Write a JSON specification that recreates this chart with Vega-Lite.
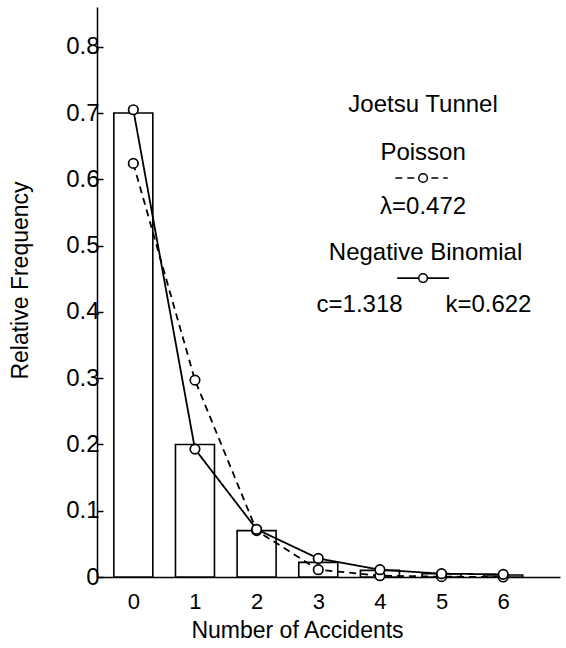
{
  "$schema": "https://vega.github.io/schema/vega-lite/v6.json",
  "width": 463,
  "height": 570,
  "autosize": "none",
  "padding": {"left": 97, "top": 7, "right": 6, "bottom": 71},
  "background": "white",
  "config": {
    "view": {"stroke": null},
    "font": "Liberation Sans",
    "axis": {"labelFont": "Liberation Sans", "titleFont": "Liberation Sans", "labelColor": "black", "titleColor": "black", "titleFontWeight": "normal", "grid": false, "domainColor": "black", "domainWidth": 1.5, "tickColor": "black", "tickWidth": 1.5}
  },
  "datasets": {
    "observed": [
      {"accidents": 0, "freq": 0.70},
      {"accidents": 1, "freq": 0.20},
      {"accidents": 2, "freq": 0.07},
      {"accidents": 3, "freq": 0.022},
      {"accidents": 4, "freq": 0.010},
      {"accidents": 5, "freq": 0.005},
      {"accidents": 6, "freq": 0.003}
    ],
    "fitted": [
      {"accidents": 0, "model": "Poisson", "p": 0.624},
      {"accidents": 1, "model": "Poisson", "p": 0.297},
      {"accidents": 2, "model": "Poisson", "p": 0.070},
      {"accidents": 3, "model": "Poisson", "p": 0.011},
      {"accidents": 4, "model": "Poisson", "p": 0.002},
      {"accidents": 5, "model": "Poisson", "p": 0.0005},
      {"accidents": 6, "model": "Poisson", "p": 0.0},
      {"accidents": 0, "model": "Negative Binomial", "p": 0.705},
      {"accidents": 1, "model": "Negative Binomial", "p": 0.193},
      {"accidents": 2, "model": "Negative Binomial", "p": 0.072},
      {"accidents": 3, "model": "Negative Binomial", "p": 0.028},
      {"accidents": 4, "model": "Negative Binomial", "p": 0.011},
      {"accidents": 5, "model": "Negative Binomial", "p": 0.005},
      {"accidents": 6, "model": "Negative Binomial", "p": 0.004}
    ],
    "notes": [
      {"text": "Joetsu Tunnel", "nx": 4.70, "ny": 0.712},
      {"text": "Poisson", "nx": 4.70, "ny": 0.640},
      {"text": "λ=0.472", "nx": 4.70, "ny": 0.558},
      {"text": "Negative Binomial", "nx": 4.74, "ny": 0.489},
      {"text": "c=1.318", "nx": 3.67, "ny": 0.411},
      {"text": "k=0.622", "nx": 5.76, "ny": 0.411}
    ],
    "keys": [
      {"model": "Poisson", "x1": 4.25, "x2": 5.1, "cx": 4.70, "ky": 0.602},
      {"model": "Negative Binomial", "x1": 4.28, "x2": 5.12, "cx": 4.70, "ky": 0.451}
    ]
  },
  "layer": [
    {
      "data": {"name": "observed"},
      "mark": {"type": "bar", "fill": "white", "stroke": "black", "strokeWidth": 1.6, "size": 39},
      "encoding": {
        "x": {"field": "accidents", "type": "quantitative",
              "scale": {"domain": [-0.508, 6.84], "nice": false, "zero": false},
              "axis": {"values": [0, 1, 2, 3, 4, 5, 6], "format": "d", "ticks": false, "labelFontSize": 22, "labelPadding": 14,
                       "title": "Number of Accidents", "titleFontSize": 23, "titleX": 200, "titleY": 53, "titleAnchor": "middle", "titleAlign": "center", "titleBaseline": "middle"}},
        "y": {"field": "freq", "type": "quantitative",
              "scale": {"domain": [0, 0.86], "nice": false},
              "axis": {"values": [0, 0.1, 0.2, 0.3, 0.4, 0.5, 0.6, 0.7, 0.8], "tickSize": -6, "labelPadding": 4, "labelFontSize": 24,
                       "labelExpr": "datum.value == 0 ? '0' : format(datum.value, '.1f')",
                       "title": "Relative Frequency", "titleFontSize": 23, "titleX": -77, "titleY": 273, "titleAngle": -90, "titleBaseline": "middle", "titleAlign": "center"}}
      }
    },
    {
      "data": {"name": "fitted"},
      "mark": {"type": "line", "color": "black", "strokeWidth": 1.8},
      "encoding": {
        "x": {"field": "accidents", "type": "quantitative"},
        "y": {"field": "p", "type": "quantitative"},
        "detail": {"field": "model"},
        "strokeDash": {"field": "model", "type": "nominal", "scale": {"domain": ["Poisson", "Negative Binomial"], "range": [[7, 5], [1, 0]]}, "legend": null}
      }
    },
    {
      "data": {"name": "fitted"},
      "mark": {"type": "point", "shape": "circle", "filled": true, "fill": "white", "stroke": "black", "strokeWidth": 1.7, "size": 90, "opacity": 1},
      "encoding": {
        "x": {"field": "accidents", "type": "quantitative"},
        "y": {"field": "p", "type": "quantitative"}
      }
    },
    {
      "data": {"name": "keys"},
      "mark": {"type": "rule", "color": "black", "strokeWidth": 1.6},
      "encoding": {
        "x": {"field": "x1", "type": "quantitative"},
        "x2": {"field": "x2"},
        "y": {"field": "ky", "type": "quantitative"},
        "strokeDash": {"field": "model", "type": "nominal", "scale": {"domain": ["Poisson", "Negative Binomial"], "range": [[7, 5], [1, 0]]}, "legend": null}
      }
    },
    {
      "data": {"name": "keys"},
      "mark": {"type": "point", "shape": "circle", "filled": true, "fill": "white", "stroke": "black", "strokeWidth": 1.5, "size": 75, "opacity": 1},
      "encoding": {
        "x": {"field": "cx", "type": "quantitative"},
        "y": {"field": "ky", "type": "quantitative"}
      }
    },
    {
      "data": {"name": "notes"},
      "mark": {"type": "text", "fontSize": 24, "font": "Liberation Sans", "color": "black", "align": "center", "baseline": "middle"},
      "encoding": {
        "x": {"field": "nx", "type": "quantitative"},
        "y": {"field": "ny", "type": "quantitative"},
        "text": {"field": "text"}
      }
    }
  ]
}
